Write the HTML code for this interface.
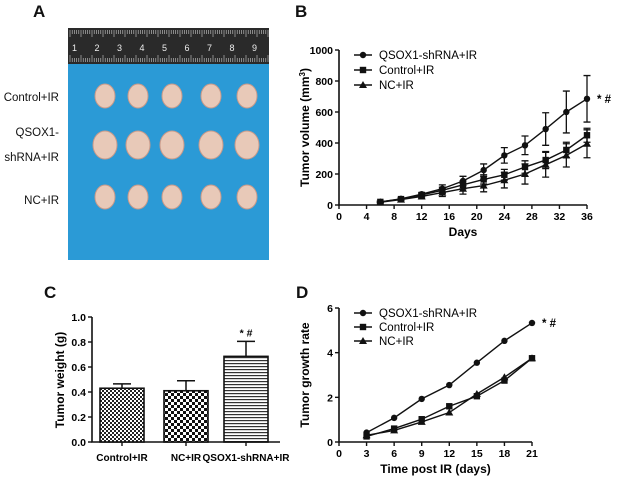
<!DOCTYPE html>
<html><head><meta charset="utf-8"><style>
body{margin:0;background:#fff;width:620px;height:482px;overflow:hidden}
svg{font-family:"Liberation Sans",Arial,sans-serif}
</style></head><body>
<svg id="fig" width="620" height="482" viewBox="0 0 620 482">
<defs>
<pattern id="chk" width="4" height="4" patternUnits="userSpaceOnUse"><rect width="4" height="4" fill="#fff"/><rect width="2" height="2" fill="#222"/><rect x="2" y="2" width="2" height="2" fill="#222"/></pattern>
<pattern id="chk2" width="6" height="6" patternUnits="userSpaceOnUse"><rect width="6" height="6" fill="#fff"/><rect width="3" height="3" fill="#111"/><rect x="3" y="3" width="3" height="3" fill="#111"/></pattern>
<pattern id="hor" width="4" height="3" patternUnits="userSpaceOnUse"><rect width="4" height="3" fill="#fff"/><rect width="4" height="1.2" fill="#333"/></pattern>
</defs>
<g font-weight="bold" font-size="17" fill="#111">
<text x="33" y="17">A</text>
<text x="295" y="17">B</text>
<text x="44" y="298">C</text>
<text x="296" y="298">D</text>
</g>
<g>
<rect x="68" y="28" width="201" height="232" fill="#2b9ad6"/>
<rect x="68" y="28" width="201" height="36" fill="#2a2a2a"/>
<g id="ruler" stroke="#ccc" stroke-width="0.6"></g>
<g font-size="9" fill="#eee" id="rulernum"></g>
<g id="tumors"></g>
</g>
<g font-size="11.5" fill="#111" text-anchor="end">
<text x="59" y="101">Control+IR</text>
<text x="59" y="136">QSOX1-</text>
<text x="59" y="161">shRNA+IR</text>
<text x="59" y="204">NC+IR</text>
</g>
<g id="pB"></g><g id="pC"></g><g id="pD"></g>
</svg>
<script>
const NS='http://www.w3.org/2000/svg';
function mk(p,t,a,txt){const e=document.createElementNS(NS,t);for(const k in a)e.setAttribute(k,a[k]);if(txt!==undefined)e.textContent=txt;p.appendChild(e);return e;}
const rl=document.getElementById('ruler');
for(let i=0;i<100;i++){const x=70+i*2.2;if(x>268)break;
 const t1=mk(rl,'line',{x1:x,y1:30,x2:x,y2:i%5?34:37});
 const t2=mk(rl,'line',{x1:x,y1:62,x2:x,y2:i%5?58:55});}
const rn=document.getElementById('rulernum');
for(let i=1;i<=9;i++){const t=mk(rn,'text',{x:72+(i-1)*22.5,y:51},String(i));}
const tg=document.getElementById('tumors');
const rowsY=[96,145,197],colsX=[105,138,172,211,247];
rowsY.forEach((y,r)=>colsX.forEach((x,c)=>{const e=mk(tg,'ellipse',{cx:x,cy:y,rx:r==1?12:10,ry:r==1?14:12,fill:'#e8c9b8',stroke:'#c99a8a','stroke-width':1});
}));

const daysB=[6,9,12,15,18,21,24,27,30,33,36];
const qsoxB=[20,40,70,105,155,225,320,385,490,600,685];
const qsoxBErr=[5,6,10,25,30,40,50,60,105,135,150];
const ctrlB=[20,38,65,95,130,165,195,245,290,355,450];
const ctrlBErr=[5,5,8,20,25,30,35,40,55,50,45];
const ncB=[18,35,55,80,105,125,160,200,260,320,395];
const ncBErr=[5,5,10,25,35,40,50,65,80,75,90];
const xTicksB=[0,4,8,12,16,20,24,28,32,36];
const yTicksB=[0,200,400,600,800,1000];
const catsC=['Control+IR','NC+IR','QSOX1-shRNA+IR'];
const valsC=[0.43,0.41,0.685];
const errC=[0.035,0.08,0.12];
const yTicksC=['0.0','0.2','0.4','0.6','0.8','1.0'];
const daysD=[3,6,9,12,15,18,21];
const qsoxD=[0.42,1.08,1.93,2.55,3.55,4.53,5.33];
const ctrlD=[0.25,0.6,1.02,1.6,2.05,2.75,3.75];
const ncD=[0.3,0.52,0.9,1.32,2.15,2.9,3.75];
const xTicksD=[0,3,6,9,12,15,18,21];
const yTicksD=[0,2,4,6];

function marker(g,type,x,y,name){let e;
 if(type=='c')e=mk(g,'circle',{cx:x,cy:y,r:3.2,fill:'#111'});
 else if(type=='s')e=mk(g,'rect',{x:x-3.2,y:y-3.2,width:6.4,height:6.4,fill:'#111'});
 else e=mk(g,'polygon',{points:`${x},${y-4} ${x-4},${y+3} ${x+4},${y+3}`,fill:'#111'});
 return e;}

function lineChart(g,o){
 const sx=v=>o.x0+(v-o.xmin)/(o.xmax-o.xmin)*(o.x1-o.x0);
 const sy=v=>o.y0-(v-o.ymin)/(o.ymax-o.ymin)*(o.y0-o.y1);
 const ax=mk(g,'path',{d:`M${o.x0},${o.y1}V${o.y0}H${o.x1}`,stroke:'#111','stroke-width':1.6,fill:'none'});
 
 o.yt.forEach(v=>{const y=sy(v);const l=mk(g,'line',{x1:o.x0-4,y1:y,x2:o.x0,y2:y,stroke:'#111','stroke-width':1.4});
  const t=mk(g,'text',{x:o.x0-6,y:y+4,'text-anchor':'end','font-size':10.5,'font-weight':'bold'},String(v));});
 o.xt.forEach(v=>{const x=sx(v);const l=mk(g,'line',{x1:x,y1:o.y0,x2:x,y2:o.y0+4,stroke:'#111','stroke-width':1.4});
  const t=mk(g,'text',{x:x,y:o.y0+15,'text-anchor':'middle','font-size':10.5,'font-weight':'bold'},String(v));});
 const xt=mk(g,'text',{x:(o.x0+o.x1)/2,y:o.y0+31,'text-anchor':'middle','font-size':12,'font-weight':'bold'},o.xlabel);
 const yc=(o.y0+o.y1)/2;const yt=mk(g,'text',{x:o.x0-30,y:yc,'text-anchor':'middle','font-size':12,'font-weight':'bold',transform:`rotate(-90 ${o.x0-30} ${yc})`});
 yt.textContent=o.ylabel;if(o.sup){mk(yt,'tspan',{'font-size':8,dy:-4},o.sup);mk(yt,'tspan',{dy:4},')');}
 
 o.series.forEach(s=>{const sg=mk(g,'g',{});
  const pts=o.xs.map((x,i)=>sx(x)+','+sy(s.v[i])).join(' ');
  const pl=mk(sg,'polyline',{points:pts,fill:'none',stroke:'#111','stroke-width':1.4});
  if(s.e)o.xs.forEach((x,i)=>{const X=sx(x),a=sy(s.v[i]+s.e[i]),b=sy(s.v[i]-s.e[i]);
   const eb=mk(sg,'path',{d:`M${X},${a}V${b}M${X-3.5},${a}H${X+3.5}M${X-3.5},${b}H${X+3.5}`,stroke:'#111','stroke-width':1.3,fill:'none'});});
  o.xs.forEach((x,i)=>marker(sg,s.m,sx(x),sy(s.v[i]),'point-'+s.id));});
 o.series.forEach((s,i)=>{const y=o.ly+i*o.lsp;const lg=mk(g,'g',{});
  mk(lg,'line',{x1:o.lx-9,y1:y,x2:o.lx+9,y2:y,stroke:'#111','stroke-width':1.4});marker(lg,s.m,o.lx,y,'legend-marker');
  const t=mk(lg,'text',{x:o.lx+16,y:y+4,'font-size':11.5},s.name);});
 const last=o.xs[o.xs.length-1];const st=mk(g,'text',{x:sx(last)+10,y:sy(o.series[0].v[o.xs.length-1])+4,'font-size':11.5,'font-weight':'bold'},'* #');
 }

lineChart(document.getElementById('pB'),{x0:339,x1:587,y0:205,y1:50,xmin:0,xmax:36,ymin:0,ymax:1000,xt:xTicksB,yt:yTicksB,xs:daysB,
 xlabel:'Days',ylabel:'Tumor volume (mm',sup:'3',lx:363,ly:55,lsp:15,
 series:[{id:'qsox1',name:'QSOX1-shRNA+IR',m:'c',v:qsoxB,e:qsoxBErr},{id:'control',name:'Control+IR',m:'s',v:ctrlB,e:ctrlBErr},{id:'nc',name:'NC+IR',m:'t',v:ncB,e:ncBErr}]});
lineChart(document.getElementById('pD'),{x0:339,x1:532,y0:442,y1:308,xmin:0,xmax:21,ymin:0,ymax:6,xt:xTicksD,yt:yTicksD,xs:daysD,
 xlabel:'Time post IR (days)',ylabel:'Tumor growth rate',lx:363,ly:313,lsp:14,
 series:[{id:'qsox1',name:'QSOX1-shRNA+IR',m:'c',v:qsoxD},{id:'control',name:'Control+IR',m:'s',v:ctrlD},{id:'nc',name:'NC+IR',m:'t',v:ncD}]});

(function(){const g=document.getElementById('pC');const x0=92,x1=280,y0=442,y1=317;
 const sy=v=>y0-v*(y0-y1);const centers=[122,186,246],bw=44;const fills=['url(#chk)','url(#chk2)','url(#hor)'];
 const ax=mk(g,'path',{d:`M${x0},${y1}V${y0}H${x1}`,stroke:'#111','stroke-width':1.6,fill:'none'});
 yTicksC.forEach(v=>{const y=sy(parseFloat(v));const l=mk(g,'line',{x1:x0-4,y1:y,x2:x0,y2:y,stroke:'#111','stroke-width':1.4});
  const t=mk(g,'text',{x:x0-6,y:y+4,'text-anchor':'end','font-size':10.5,'font-weight':'bold'},v);});
 const yt=mk(g,'text',{x:64,y:380,'text-anchor':'middle','font-size':12,'font-weight':'bold',transform:'rotate(-90 64 380)'},'Tumor weight (g)');
 catsC.forEach((c,i)=>{const cx=centers[i];const top=sy(valsC[i]),et=sy(valsC[i]+errC[i]);
  const eb=mk(g,'path',{d:`M${cx},${top}V${et}M${cx-9},${et}H${cx+9}`,stroke:'#111','stroke-width':1.5,fill:'none'});
  const b=mk(g,'rect',{x:cx-bw/2,y:top,width:bw,height:y0-top,fill:fills[i],stroke:'#111','stroke-width':1.6});
  const tk=mk(g,'line',{x1:cx,y1:y0,x2:cx,y2:y0+4,stroke:'#111','stroke-width':1.4});
  const t=mk(g,'text',{x:cx,y:y0+19,'text-anchor':'middle','font-size':10,'font-weight':'bold'},c);});
 const st=mk(g,'text',{x:centers[2],y:sy(valsC[2]+errC[2])-5,'text-anchor':'middle','font-size':10.5,'font-weight':'bold'},'* #');
})();
</script>
</body></html>
